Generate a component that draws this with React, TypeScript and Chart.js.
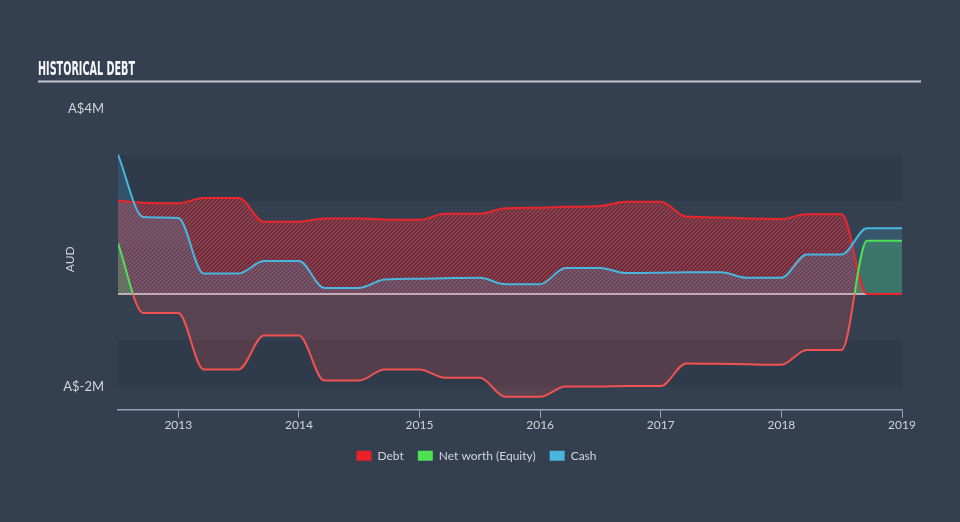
import React, { useEffect, useRef } from 'react';
import { Chart, registerables } from 'chart.js';

Chart.register(...registerables);

// ---- data (millions AUD) ----
const DATES = [2012.5, 2012.71, 2013.0, 2013.21, 2013.5, 2013.71, 2014.0, 2014.21, 2014.5, 2014.71, 2015.0, 2015.21, 2015.5, 2015.71, 2016.0, 2016.21, 2016.5, 2016.71, 2017.0, 2017.21, 2017.5, 2017.71, 2018.0, 2018.21, 2018.5, 2018.71, 2019.0];
const DEBT = [2.01, 1.97, 1.96, 2.07, 2.07, 1.56, 1.56, 1.63, 1.63, 1.61, 1.6, 1.73, 1.73, 1.85, 1.86, 1.88, 1.9, 1.99, 1.99, 1.67, 1.65, 1.63, 1.62, 1.72, 1.72, 0, 0];
const EQUITY = [1.09, -0.41, -0.41, -1.63, -1.63, -0.9, -0.9, -1.87, -1.87, -1.63, -1.63, -1.81, -1.81, -2.22, -2.22, -2.0, -2.0, -1.99, -1.99, -1.5, -1.51, -1.52, -1.53, -1.21, -1.21, 1.15, 1.15];
const CASH = [3.01, 1.66, 1.64, 0.44, 0.44, 0.71, 0.71, 0.13, 0.13, 0.31, 0.33, 0.34, 0.35, 0.21, 0.21, 0.56, 0.56, 0.45, 0.46, 0.47, 0.47, 0.35, 0.35, 0.85, 0.85, 1.42, 1.42];
const SERIES_LABELS = ['Debt', 'Net worth (Equity)', 'Cash'];
const X_TICKS = [2013, 2014, 2015, 2016, 2017, 2018, 2019];
const Y_TICKS = [-2, 4];
const X_MIN = 2012.5;
const X_MAX = 2019;
const Y_MIN = -2.5;
const Y_MAX = 4;
const BAND_TOP = 3;
const BAND_STEP = 1;
const TITLE = 'HISTORICAL DEBT';
const Y_TITLE = 'AUD';

// ---- styles ----
const PAGE_BG = 'rgb(52,64,80)';
const BAND_DARK = 'rgb(47,58,74)';
const BAND_LIGHT = 'rgb(52,64,80)';
const RED = 'rgb(232,38,44)';
const RED_SOFT = 'rgb(240,82,82)';
const GREEN = 'rgb(78,222,88)';
const BLUE = 'rgb(74,182,222)';
const LEGEND_COLORS = ['rgb(232,34,40)', 'rgb(78,226,82)', 'rgb(74,182,222)'];
const TEXT = 'rgb(208,212,218)';
const AXIS = 'rgb(150,164,184)';
const FONT = 'Lato, "Open Sans", sans-serif';

function makeHatch(): CanvasPattern | string {
  const size = 4;
  const p = document.createElement('canvas');
  p.width = size;
  p.height = size;
  const c = p.getContext('2d');
  if (!c) return 'rgba(225,45,55,0.4)';
  for (let yy = 0; yy < size; yy++) {
    for (let xx = 0; xx < size; xx++) {
      const k = (xx + yy) % size;
      c.fillStyle = k < 2 ? 'rgba(222,46,58,0.72)' : 'rgba(222,46,58,0.14)';
      c.fillRect(xx, yy, 1, 1);
    }
  }
  const pat = c.createPattern(p, 'repeat');
  return pat || 'rgba(225,45,55,0.4)';
}

const backgroundPlugin = {
  id: 'bgBands',
  beforeDraw(chart: any) {
    const { ctx, chartArea: a, scales } = chart;
    const y = scales.y;
    ctx.save();
    ctx.fillStyle = PAGE_BG;
    ctx.fillRect(0, 0, chart.width, chart.height);
    let i = 0;
    for (let v = BAND_TOP; v > y.min; v -= BAND_STEP, i++) {
      const top = y.getPixelForValue(v);
      const bot = y.getPixelForValue(Math.max(v - BAND_STEP, y.min));
      ctx.fillStyle = i % 2 === 0 ? BAND_DARK : BAND_LIGHT;
      ctx.fillRect(a.left, top, a.right - a.left, bot - top);
    }
    // title
    ctx.font = 'bold 20px "Liberation Sans Narrow", "DejaVu Sans Condensed", sans-serif';
    const w = ctx.measureText(TITLE).width;
    ctx.translate(38, 74.5);
    ctx.scale(97 / w, 1);
    ctx.fillStyle = 'rgb(246,246,248)';
    ctx.textBaseline = 'alphabetic';
    ctx.fillText(TITLE, 0, 0);
    ctx.restore();
    ctx.save();
    ctx.fillStyle = 'rgb(196,198,204)';
    ctx.fillRect(38, 80.5, 883, 2);
    ctx.restore();
  },
  beforeDatasetsDraw(chart: any) {
    const { ctx, chartArea: a, scales } = chart;
    const y0 = scales.y.getPixelForValue(0);
    ctx.save();
    ctx.strokeStyle = 'rgba(226,200,210,0.78)';
    ctx.lineWidth = 2;
    ctx.beginPath();
    ctx.moveTo(a.left, y0);
    ctx.lineTo(a.right, y0);
    ctx.stroke();
    ctx.restore();
  },
};

function equityStroke(context: any) {
  const chart = context.chart;
  const a = chart.chartArea;
  if (!a || !chart.scales || !chart.scales.y) return GREEN;
  const y0 = chart.scales.y.getPixelForValue(0);
  const g = chart.ctx.createLinearGradient(0, a.top, 0, a.bottom);
  const s = Math.min(1, Math.max(0, (y0 - a.top) / (a.bottom - a.top)));
  g.addColorStop(0, GREEN);
  g.addColorStop(s, GREEN);
  g.addColorStop(s, RED_SOFT);
  g.addColorStop(1, RED_SOFT);
  return g;
}

export default function App() {
  const ref = useRef<HTMLCanvasElement | null>(null);

  useEffect(() => {
    if (!ref.current) return;
    const pts = (vals: number[]) => DATES.map((d, i) => ({ x: d, y: vals[i] }));
    const chart = new Chart(ref.current, {
      type: 'line',
      data: {
        datasets: [
          {
            label: SERIES_LABELS[0],
            data: pts(DEBT),
            borderColor: RED,
            borderWidth: 2,
            backgroundColor: makeHatch() as any,
            fill: 'origin',
            pointRadius: 0,
            cubicInterpolationMode: 'monotone',
            order: 3,
          },
          {
            label: SERIES_LABELS[1],
            data: pts(EQUITY),
            borderColor: equityStroke as any,
            borderWidth: 2,
            fill: { target: { value: 0 }, above: 'rgba(80,220,80,0.26)', below: 'rgba(240,80,80,0.2)' } as any,
            pointRadius: 0,
            cubicInterpolationMode: 'monotone',
            order: 2,
          },
          {
            label: SERIES_LABELS[2],
            data: pts(CASH),
            borderColor: BLUE,
            borderWidth: 2,
            backgroundColor: 'rgba(74,182,222,0.2)',
            fill: 'origin',
            pointRadius: 0,
            cubicInterpolationMode: 'monotone',
            order: 1,
          },
        ],
      },
      options: {
        responsive: false,
        animation: false,
        devicePixelRatio: 1,
        layout: { padding: { top: 108.7, right: 58, bottom: 50.3, left: 51 } },
        scales: {
          x: {
            type: 'linear',
            min: X_MIN,
            max: X_MAX,
            afterBuildTicks: (s: any) => { s.ticks = X_TICKS.map((v) => ({ value: v })); },
            afterFit: (s: any) => { s.height = 26; },
            ticks: {
              callback: (v: any) => String(v),
              color: TEXT,
              font: { family: FONT, size: 12 },
              padding: 0,
              maxRotation: 0,
              autoSkip: false,
            },
            grid: { display: true, drawOnChartArea: false, drawTicks: true, tickLength: 8, color: AXIS, lineWidth: 1 },
            border: { display: true, color: AXIS, width: 1.5 },
          },
          y: {
            type: 'linear',
            min: Y_MIN,
            max: Y_MAX,
            afterBuildTicks: (s: any) => { s.ticks = Y_TICKS.map((v) => ({ value: v })); },
            afterFit: (s: any) => { s.width = 67; },
            ticks: {
              callback: (v: any) => 'A$' + v + 'M',
              color: TEXT,
              font: { family: FONT, size: 13 },
              padding: 6,
            },
            grid: { display: false },
            border: { display: false },
            title: {
              display: true,
              text: Y_TITLE,
              color: TEXT,
              font: { family: FONT, size: 12 },
              padding: { top: 12, bottom: 0 },
            },
          },
        },
        plugins: {
          filler: { drawTime: 'beforeDatasetsDraw' },
          tooltip: { enabled: false },
          title: { display: false },
          legend: {
            display: true,
            position: 'bottom',
            labels: {
              boxWidth: 15,
              boxHeight: 10,
              padding: 14,
              color: TEXT,
              font: { family: FONT, size: 12 },
              generateLabels: (c: any) =>
                c.data.datasets.map((ds: any, i: number) => ({
                  text: ds.label,
                  fillStyle: LEGEND_COLORS[i],
                  strokeStyle: LEGEND_COLORS[i],
                  lineWidth: 0,
                  hidden: false,
                  datasetIndex: i,
                  fontColor: TEXT,
                })),
            },
          },
        },
      } as any,
      plugins: [backgroundPlugin],
    });
    return () => chart.destroy();
  }, []);

  return (
    <div style={{ position: 'absolute', left: 0, top: 0, width: 960, height: 522, background: PAGE_BG }}>
      <canvas ref={ref} width={960} height={522} style={{ display: 'block', width: 960, height: 522 }} />
    </div>
  );
}
